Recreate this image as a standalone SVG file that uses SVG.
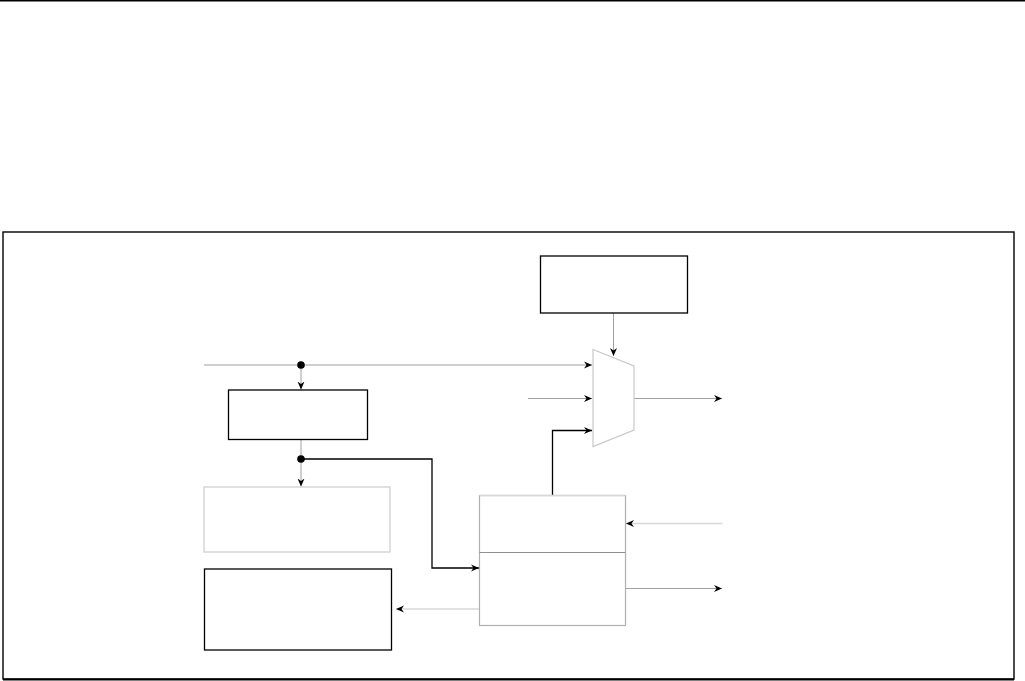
<svg xmlns="http://www.w3.org/2000/svg" width="1025" height="681" viewBox="0 0 1025 681">
<style>
.blk{fill:#fff;stroke:#000;stroke-width:1.3}
.lt{fill:#fff;stroke:#d0d0d0;stroke-width:1.3}
.ln{fill:none;stroke:#a0a0a0;stroke-width:1}
.lnl{fill:none;stroke:#d8d8d8;stroke-width:1.3}
.lnb{fill:none;stroke:#000;stroke-width:1.3}
</style>
<defs>
<marker id="ah" viewBox="0 0 8 8" refX="8" refY="4" markerWidth="8" markerHeight="8" markerUnits="userSpaceOnUse" orient="auto">
<path d="M0,0.5 L8,4 L0,7.5 L2.5,4 z" fill="#000"/>
</marker>
</defs>
<rect width="1025" height="681" fill="#fff"/>
<line x1="0" y1="0.8" x2="1025" y2="0.8" stroke="#000" stroke-width="1.6"/>
<rect x="3" y="232" width="1011" height="447" fill="none" stroke="#000" stroke-width="1.4"/>
<line x1="3" y1="679.5" x2="1014" y2="679.5" stroke="#000" stroke-width="2"/>
<g id="connectors">
<line class="ln" x1="204" y1="365" x2="592" y2="365" marker-end="url(#ah)"/>
<line class="ln" x1="301" y1="365" x2="301" y2="389.5" marker-end="url(#ah)"/>
<line class="ln" x1="301" y1="440" x2="301" y2="486.5" marker-end="url(#ah)"/>
<polyline class="lnb" points="301,459 432,459 432,568 479,568" marker-end="url(#ah)"/>
<polyline class="lnb" points="552.5,495 552.5,430.5 592,430.5" marker-end="url(#ah)"/>
<line class="ln" x1="528" y1="398.5" x2="592" y2="398.5" marker-end="url(#ah)"/>
<line class="ln" x1="613.5" y1="313" x2="613.5" y2="356" marker-end="url(#ah)"/>
<line class="ln" x1="634" y1="398.5" x2="722" y2="398.5" marker-end="url(#ah)"/>
<line class="lnl" x1="722.5" y1="523.5" x2="626" y2="523.5" marker-end="url(#ah)"/>
<line class="ln" x1="626" y1="588.5" x2="722" y2="588.5" marker-end="url(#ah)"/>
<line class="lnl" x1="479" y1="609" x2="396" y2="609" marker-end="url(#ah)"/>
<circle cx="301" cy="365" r="3.8" fill="#000"/>
<circle cx="301" cy="459" r="3.8" fill="#000"/>
</g>
<g id="node-top"><rect class="blk" x="540.5" y="256" width="147" height="57"/></g>
<g id="node-mux"><polygon points="593,349.5 634,366 634,430 593,446.5" fill="#fff" stroke="#c8c8c8" stroke-width="1.2"/></g>
<g id="node-a"><rect class="blk" x="228.5" y="390" width="139" height="49.5"/></g>
<g id="node-b"><rect class="lt" x="204" y="487" width="186" height="65"/></g>
<g id="node-c"><rect class="blk" x="204.5" y="569" width="187" height="81"/></g>
<g id="node-d">
<rect x="479.5" y="495.5" width="146" height="130" fill="#fff" stroke="#b0b0b0" stroke-width="1.2"/>
<line x1="479.5" y1="495.5" x2="625.5" y2="495.5" stroke="#d8d8d8" stroke-width="1.3"/>
<line x1="479.5" y1="552.5" x2="625.5" y2="552.5" stroke="#909090" stroke-width="1.2"/>
</g>
</svg>
